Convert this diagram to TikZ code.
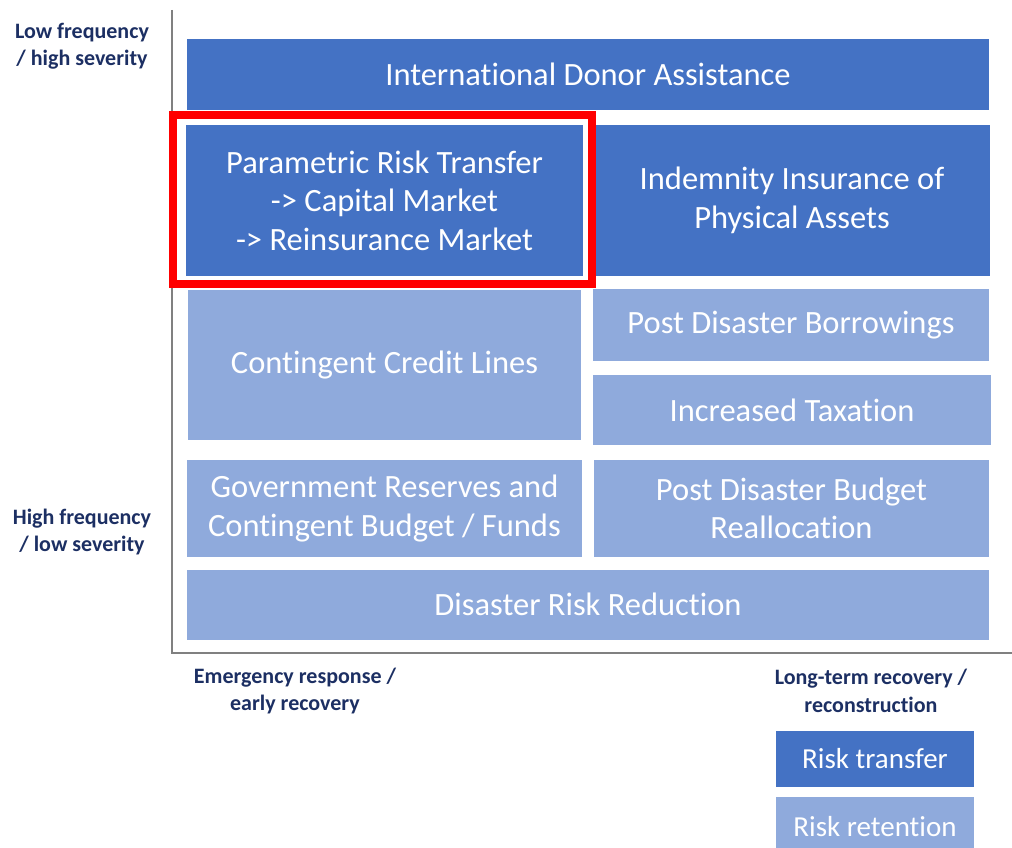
\documentclass[tikz,border=0pt]{standalone}
\usepackage{fontspec}
\setmainfont{Carlito}[Ligatures=NoCommon]
\definecolor{dark}{HTML}{4472C4}
\definecolor{light}{HTML}{8FAADC}
\definecolor{navy}{HTML}{1C2F63}
\definecolor{axisgray}{HTML}{808080}
\begin{document}
\begin{tikzpicture}[x=1pt,y=-1pt,
  box/.style={rectangle, inner sep=0pt, text=white, align=center,
    font=\fontsize{32.5}{38.5}\selectfont},
  tr/.style={box, fill=dark},
  rt/.style={box, fill=light},
  legend/.style={font=\fontsize{29}{34}\selectfont},
  axlabel/.style={text=navy, align=center, font=\fontsize{22}{27.5}\selectfont\bfseries}]
\useasboundingbox (0,0) rectangle (1012,848);
\clip (0,0) rectangle (1012,848);
% axes
\coordinate (ytop) at (172,10);
\coordinate (origin) at (172,653);
\coordinate (xend) at (1012,653);
\draw[axisgray, line width=2] (ytop) -- (origin) -- (xend);
% boxes
\node[tr, minimum width=802, minimum height=71] (ida) at (588,74.5) {International Donor Assistance};
\node[tr, minimum width=397, minimum height=151] (prt) at (384.5,200.5) {Parametric Risk Transfer\\-> Capital Market\\-> Reinsurance Market};
\node[tr, minimum width=396, minimum height=151] (iins) at (792,200.5) {Indemnity Insurance of\\Physical Assets};
\node[rt, minimum width=393, minimum height=150] (ccl) at (384.5,365) {Contingent Credit Lines};
\node[rt, minimum width=396, minimum height=72] (pdb) at (791,325) {Post Disaster Borrowings};
\node[rt, minimum width=398, minimum height=70] (tax) at (792,410) {Increased Taxation};
\node[rt, minimum width=395, minimum height=97] (gov) at (384.5,508.5) {Government Reserves and\\Contingent Budget / Funds};
\node[rt, minimum width=395, minimum height=97] (pdr) at (791.5,508.5) {Post Disaster Budget\\Reallocation};
\node[rt, minimum width=802, minimum height=70] (drr) at (588,604.5) {Disaster Risk Reduction};
% highlight
\draw[red, line width=8] (173,115) rectangle (592,284);
% axis labels
\node[axlabel] (lf) at (82,46) {Low frequency\\/ high severity};
\node[axlabel] (hf) at (82,532) {High frequency\\/ low severity};
\node[axlabel] (er) at (295,691) {Emergency response /\\early recovery};
\node[axlabel] (lt) at (871,691) {Long-term recovery /\\reconstruction};
% legend
\node[tr, legend, minimum width=198, minimum height=56] (ltr) at (875,759) {Risk transfer};
\node[rt, legend, minimum width=198, minimum height=60] (lrt) at (875,827) {Risk retention};
\end{tikzpicture}
\end{document}
